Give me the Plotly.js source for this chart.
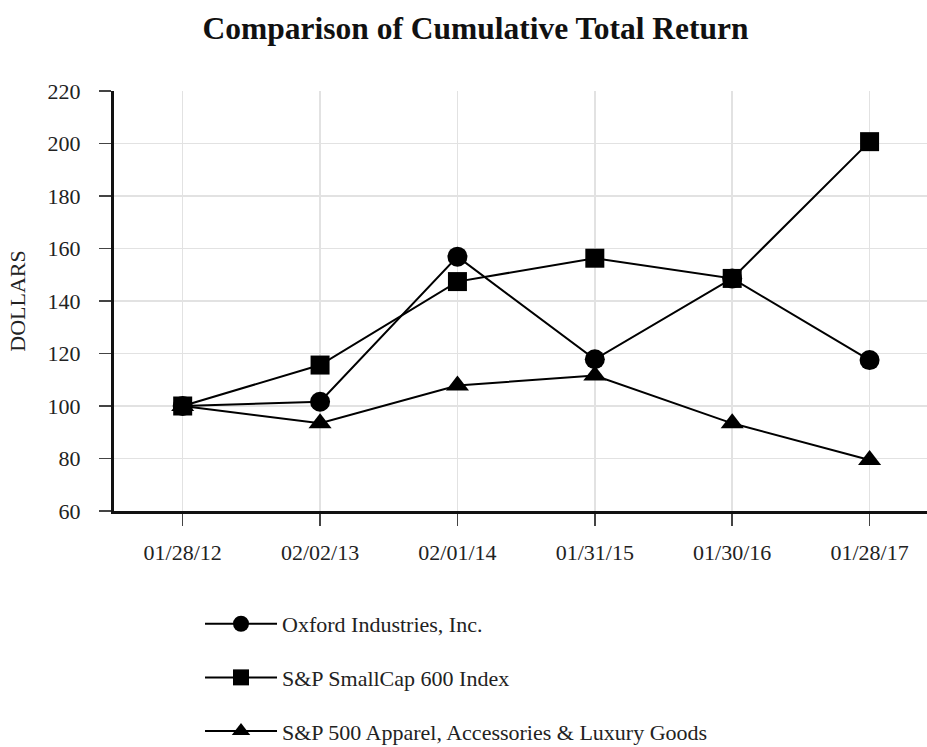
<!DOCTYPE html>
<html>
<head>
<meta charset="utf-8">
<script src="https://cdn.plot.ly/plotly-3.0.1.min.js"></script>
<style>html,body{margin:0;padding:0;background:#fff;}#chart{width:927px;height:747px;}</style>
</head>
<body>
<div id="chart"></div>
<script>
const dates = ["01/28/12", "02/02/13", "02/01/14", "01/31/15", "01/30/16", "01/28/17"];
const oxford = [100, 101.6, 156.9, 117.8, 148.6, 117.5];
const smallCap = [100, 115.6, 147.4, 156.3, 148.6, 200.7];
const apparel = [100, 93.4, 107.8, 111.6, 93.4, 79.4];
const seriesNames = ["Oxford Industries, Inc.", "S&P SmallCap 600 Index", "S&P 500 Apparel, Accessories & Luxury Goods"];
const yTicks = [60, 80, 100, 120, 140, 160, 180, 200, 220];

const font = "Liberation Serif, Times New Roman, serif";
function mk(y, name, symbol, size, g) {
  return {
    x: dates, y: y, name: name, type: "scatter", mode: "lines+markers",
    legendgroup: g,
    line: {color: "#000", width: 2},
    marker: {symbol: symbol, size: size, color: "#000"},
    cliponaxis: false
  };
}
const data = [
  mk(oxford, seriesNames[0], "circle", 20, "a"),
  mk(smallCap, seriesNames[1], "square", 19, "b"),
  mk(apparel, seriesNames[2], "triangle-up", 20, "c")
];
const layout = {
  width: 927, height: 747,
  margin: {l: 114, r: 0, t: 91, b: 236, autoexpand: false},
  paper_bgcolor: "#fff", plot_bgcolor: "#fff",
  font: {family: font, color: "#222", size: 22},
  title: {text: "<b>Comparison of Cumulative Total Return</b>", font: {family: font, size: 31.5, color: "#111"},
          x: 0.513, xref: "container", xanchor: "center", y: 0.962, yref: "container", yanchor: "middle"},
  xaxis: {
    type: "category", range: [-0.5, 5.418], automargin: false,
    showline: true, linecolor: "#111", linewidth: 3,
    showgrid: true, gridcolor: "#e2e2e2", gridwidth: 1.5,
    ticks: "outside", ticklen: 12, tickwidth: 1.5, tickcolor: "#444",
    ticklabelstandoff: 8,
    tickfont: {family: font, size: 22, color: "#222"}, zeroline: false
  },
  yaxis: {
    range: [60, 220], tickvals: yTicks, automargin: false,
    showline: true, linecolor: "#111", linewidth: 3,
    showgrid: true, gridcolor: "#e2e2e2", gridwidth: 1.5,
    ticks: "outside", ticklen: 12, tickwidth: 1.5, tickcolor: "#444",
    ticklabelstandoff: 14,
    tickfont: {family: font, size: 22, color: "#222"}, zeroline: false,
    title: {text: "DOLLARS", font: {family: font, size: 22, color: "#222"}, standoff: 16}
  },
  showlegend: true,
  legend: {
    x: 0.1058, y: -0.219, xanchor: "left", yanchor: "top",
    traceorder: "grouped", tracegroupgap: 22, itemwidth: 72,
    font: {family: font, size: 22, color: "#222"}, bgcolor: "rgba(0,0,0,0)"
  }
};
Plotly.newPlot("chart", data, layout, {displayModeBar: false, staticPlot: true});
</script>
</body>
</html>
